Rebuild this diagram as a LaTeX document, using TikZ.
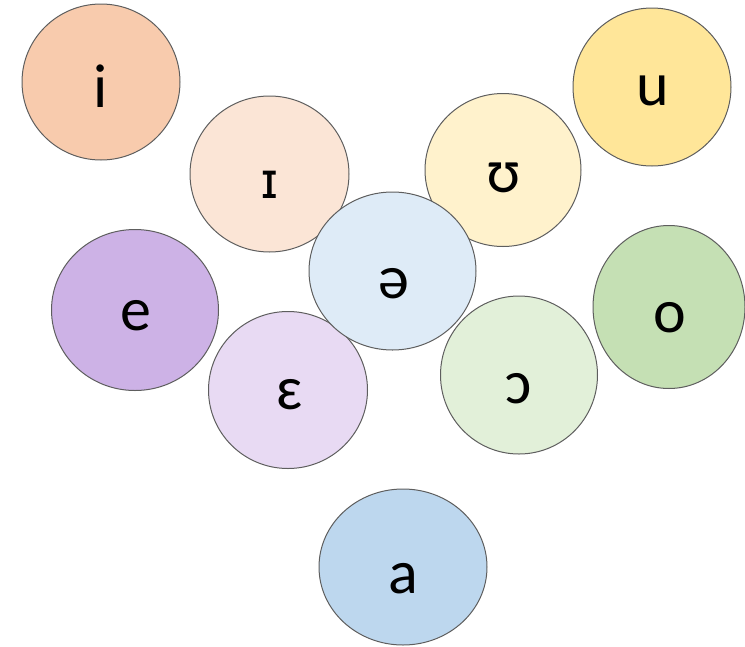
\documentclass[tikz,border=0pt]{standalone}
\usepackage{fontspec}
\setmainfont{Carlito}
\newfontfamily\ipafont{DejaVu Sans}
\usetikzlibrary{shapes.geometric}
\definecolor{cI}{HTML}{F8CBAD}
\definecolor{cIsmall}{HTML}{FBE5D6}
\definecolor{cU}{HTML}{FFE699}
\definecolor{cUsmall}{HTML}{FFF2CC}
\definecolor{cSchwa}{HTML}{DEEBF7}
\definecolor{cE}{HTML}{CDB2E6}
\definecolor{cEps}{HTML}{E8DAF3}
\definecolor{cOpen}{HTML}{E2F0D9}
\definecolor{cO}{HTML}{C5E0B4}
\definecolor{cA}{HTML}{BDD7EE}
\definecolor{edge}{HTML}{5E5E5E}
\tikzset{
  vowel/.style={ellipse, draw=edge, line width=1pt, inner sep=0pt},
  sym/.style={anchor=base, font=\fontsize{62}{62}\selectfont, text=black, inner sep=0pt},
}
\begin{document}
\begin{tikzpicture}[x=1pt,y=-1pt]
\useasboundingbox (0,0) rectangle (745,646);
\node[vowel, fill=cI, minimum width=158pt, minimum height=156pt] (ci) at (101,82) {};
\node[vowel, fill=cU, minimum width=158pt, minimum height=158pt] (cu) at (652,87) {};
\node[vowel, fill=cIsmall, minimum width=159pt, minimum height=156pt] (cI) at (269.5,174) {};
\node[vowel, fill=cUsmall, minimum width=156pt, minimum height=153pt] (cU) at (503,170) {};
\node[vowel, fill=cE, minimum width=167pt, minimum height=161pt] (ce) at (135,310) {};
\node[vowel, fill=cO, minimum width=152pt, minimum height=163pt] (co) at (669,307) {};
\node[vowel, fill=cEps, minimum width=159pt, minimum height=157pt] (cE) at (288,390) {};
\node[vowel, fill=cOpen, minimum width=157pt, minimum height=158pt] (cO) at (519,375) {};
\node[vowel, fill=cSchwa, minimum width=167pt, minimum height=158pt] (cs) at (392.5,271) {};
\node[vowel, fill=cA, minimum width=168pt, minimum height=156pt] (ca) at (403,567) {};
\node[sym] (ti) at (101,107) {i};
\node[sym] (tu) at (653,105) {u};
\node[sym, font=\ipafont\fontsize{50}{50}\selectfont] (tI) at (270,198) {ɪ};
\node[sym] (tU) at (504,192) {ʊ};
\node[sym] (ts) at (394,298) {ə};
\node[sym] (te) at (136,330) {e};
\node[sym] (to) at (670,332) {o};
\node[sym] (tE) at (290,409) {ɛ};
\node[sym] (tO) at (519,403) {ɔ};
\node[sym] (ta) at (403,593) {a};
\end{tikzpicture}
\end{document}
